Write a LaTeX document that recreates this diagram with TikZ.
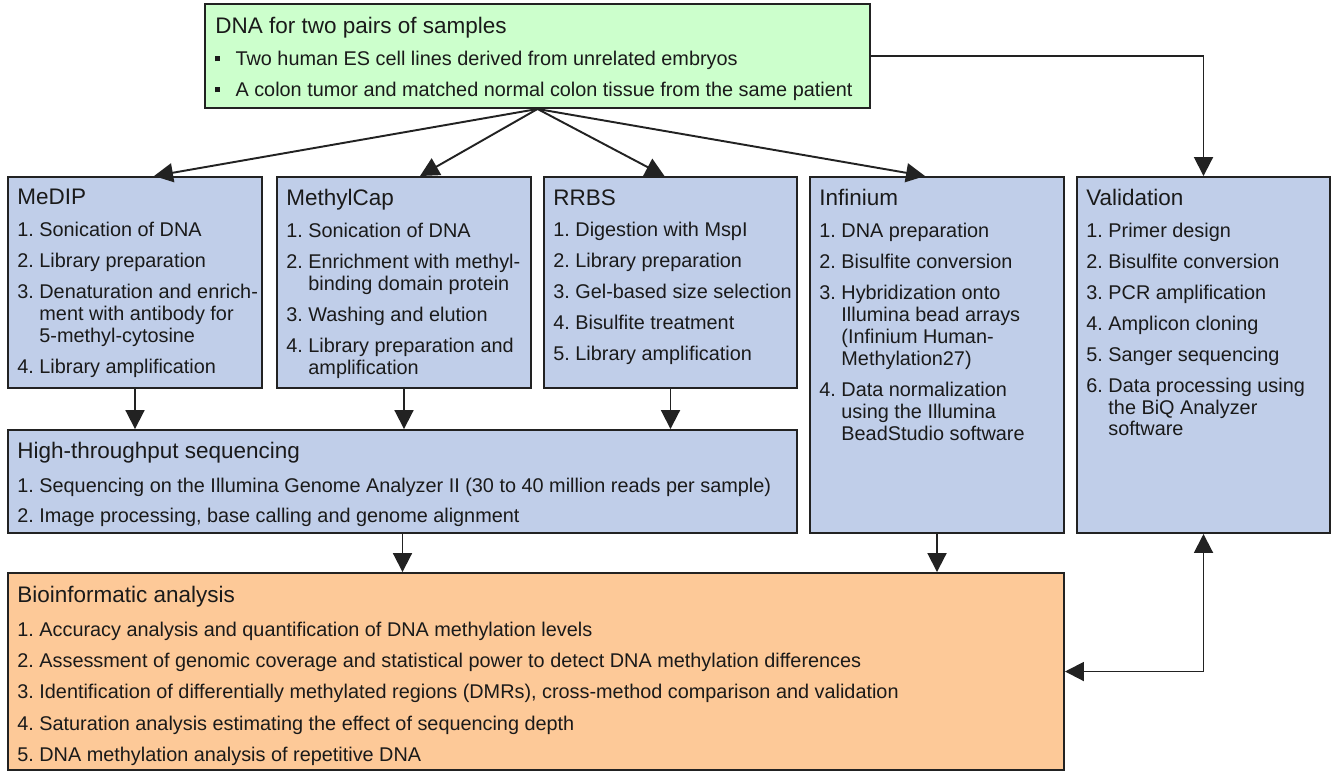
\documentclass[tikz,border=0pt]{standalone}
\usepackage{fontspec}
\setmainfont{Liberation Sans}
\usetikzlibrary{arrows.meta,calc,fit}
\definecolor{boxgreen}{RGB}{204,255,204}
\definecolor{boxblue}{RGB}{192,206,233}
\definecolor{boxorange}{RGB}{253,201,152}
\definecolor{linegray}{RGB}{34,34,34}
\definecolor{textgray}{RGB}{26,26,26}
\frenchspacing
\newcommand{\hd}[1]{{\fontsize{12.8}{14}\selectfont #1}}
\newcommand{\ct}{\hspace*{12.57pt}}
\newcommand{\bul}{\rule[2.3pt]{2.9pt}{2.9pt}\hspace{8.6pt}}
\begin{document}
\begin{tikzpicture}[x=0.02cm,y=-0.02cm,
  box/.style={draw=linegray,line width=1.1pt,inner sep=0pt},
  txt/.style={anchor=north west,inner sep=0pt,align=left,text=textgray,
    font=\fontsize{11.3}{12.5}\selectfont\frenchspacing},
  conn/.style={draw=linegray,line width=1.1pt,-{Triangle[length=10.8pt,width=10.8pt]}}]
\useasboundingbox (0,0) rectangle (1338,772);
\node[box,fill=boxgreen,fit={(205,4) (870,108)}] (dna) {};
\node[box,fill=boxblue,fit={(8,177) (262,388)}] (medip) {};
\node[box,fill=boxblue,fit={(277,177) (531,388)}] (methylcap) {};
\node[box,fill=boxblue,fit={(544,177) (797,388)}] (rrbs) {};
\node[box,fill=boxblue,fit={(810,177) (1064,533)}] (infinium) {};
\node[box,fill=boxblue,fit={(1077,177) (1330,533)}] (validation) {};
\node[box,fill=boxblue,fit={(8,430) (797,533)}] (hts) {};
\node[box,fill=boxorange,fit={(8,573) (1064,770)}] (bioinf) {};

\node[txt] (dna-txt) at (215,17) {\hd{DNA for two pairs of samples}\\[5.6pt]
  \bul Two human ES cell lines derived from unrelated embryos\\[5.1pt]
  \bul A colon tumor and matched normal colon tissue from the same patient};
\node[txt] (medip-txt) at (17,189) {\hd{MeDIP}\\[5.6pt]
  1. Sonication of DNA\\[5.1pt]
  2. Library preparation\\[5.1pt]
  3. Denaturation and enrich-\\\ct ment with antibody for\\\ct 5-methyl-cytosine\\[5.1pt]
  4. Library amplification};
\node[txt] (methylcap-txt) at (286,189) {\hd{MethylCap}\\[5.6pt]
  1. Sonication of DNA\\[5.1pt]
  2. Enrichment with methyl-\\\ct binding domain protein\\[5.1pt]
  3. Washing and elution\\[5.1pt]
  4. Library preparation and\\\ct amplification};
\node[txt] (rrbs-txt) at (553,189) {\hd{RRBS}\\[5.6pt]
  1. Digestion with MspI\\[5.1pt]
  2. Library preparation\\[5.1pt]
  3. Gel-based size selection\\[5.1pt]
  4. Bisulfite treatment\\[5.1pt]
  5. Library amplification};
\node[txt] (infinium-txt) at (819,189) {\hd{Infinium}\\[5.6pt]
  1. DNA preparation\\[5.1pt]
  2. Bisulfite conversion\\[5.1pt]
  3. Hybridization onto\\\ct Illumina bead arrays\\\ct (Infinium Human-\\\ct Methylation27)\\[5.1pt]
  4. Data normalization\\\ct using the Illumina\\\ct BeadStudio software};
\node[txt] (validation-txt) at (1086,189) {\hd{Validation}\\[5.6pt]
  1. Primer design\\[5.1pt]
  2. Bisulfite conversion\\[5.1pt]
  3. PCR amplification\\[5.1pt]
  4. Amplicon cloning\\[5.1pt]
  5. Sanger sequencing\\[5.1pt]
  6. Data processing using\\\ct the BiQ Analyzer\\\ct software};
\node[txt] (hts-txt) at (17,442) {\hd{High-throughput sequencing}\\[6.5pt]
  1. Sequencing on the Illumina Genome Analyzer II (30 to 40 million reads per sample)\\[5.1pt]
  2. Image processing, base calling and genome alignment};
\node[txt] (bioinf-txt) at (17,586) {\hd{Bioinformatic analysis}\\[6.5pt]
  1. Accuracy analysis and quantification of DNA methylation levels\\[5.4pt]
  2. Assessment of genomic coverage and statistical power to detect DNA methylation differences\\[5.4pt]
  3. Identification of differentially methylated regions (DMRs), cross-method comparison and validation\\[5.4pt]
  4. Saturation analysis estimating the effect of sequencing depth\\[5.4pt]
  5. DNA methylation analysis of repetitive DNA};

\draw[conn] (dna.south) -- ($(medip.north)+(19,0)$);
\draw[conn] (dna.south) -- ($(methylcap.north)+(16,0)$);
\draw[conn] (dna.south) -- ($(rrbs.north)+(-6,0)$);
\draw[conn] (dna.south) -- ($(infinium.north)+(-12,0)$);
\draw[conn] (dna.east) -| (validation.north);
\draw[conn] (medip.south) -- (medip.south |- hts.north);
\draw[conn] (methylcap.south) -- (methylcap.south |- hts.north);
\draw[conn] (rrbs.south) -- (rrbs.south |- hts.north);
\draw[conn] (hts.south) -- (hts.south |- bioinf.north);
\draw[conn] (infinium.south) -- (infinium.south |- bioinf.north);
\draw[conn,{Triangle[length=10.8pt,width=10.8pt]}-{Triangle[length=10.8pt,width=10.8pt]}] (bioinf.east) -| (validation.south);
\end{tikzpicture}
\end{document}
